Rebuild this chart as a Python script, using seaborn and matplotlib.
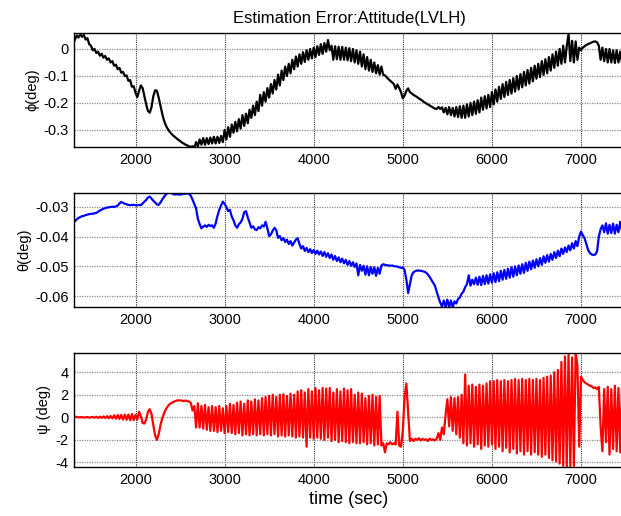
import numpy as np
import matplotlib
matplotlib.use('Agg')
import matplotlib.pyplot as plt
import seaborn as sns

# tempo: uma amostra a cada 20 s
time_sec = np.arange(1300, 7500, 20)

phi_deg = [
    0.02, 0.035, 0.05, 0.042, 0.055, 0.045, 0.052, 0.035, 0.04, 0.018,
    0.012, -0.005, 0.0, -0.015, -0.01, -0.025, -0.018, -0.032, -0.026, -0.04,
    -0.035, -0.05, -0.045, -0.062, -0.058, -0.075, -0.07, -0.088, -0.085, -0.10,
    -0.098, -0.118, -0.115, -0.14, -0.138, -0.162, -0.178, -0.155, -0.135, -0.145,
    -0.175, -0.205, -0.23, -0.236, -0.215, -0.175, -0.153, -0.155, -0.18, -0.21,
    -0.24, -0.265, -0.283, -0.295, -0.305, -0.313, -0.32, -0.325, -0.331, -0.336,
    -0.341, -0.346, -0.35, -0.354, -0.357, -0.36, -0.363, -0.36, -0.366, -0.345,
    -0.36, -0.335, -0.355, -0.33, -0.355, -0.33, -0.352, -0.328, -0.35, -0.325,
    -0.35, -0.325, -0.348, -0.322, -0.345, -0.30, -0.335, -0.29, -0.325, -0.28,
    -0.31, -0.27, -0.305, -0.26, -0.295, -0.245, -0.285, -0.24, -0.275, -0.225,
    -0.255, -0.21, -0.245, -0.195, -0.23, -0.17, -0.21, -0.16, -0.195, -0.145,
    -0.18, -0.13, -0.165, -0.115, -0.15, -0.095, -0.135, -0.08, -0.115, -0.065,
    -0.10, -0.055, -0.09, -0.04, -0.075, -0.028, -0.065, -0.02, -0.055, -0.012,
    -0.048, -0.005, -0.04, 0.0, -0.035, 0.005, -0.03, 0.01, -0.022, 0.018,
    -0.018, 0.022, -0.01, 0.033, -0.005, 0.012, -0.04, 0.01, -0.038, 0.008,
    -0.04, 0.008, -0.04, 0.005, -0.042, 0.003, -0.045, 0.0, -0.05, -0.005,
    -0.055, -0.01, -0.065, -0.02, -0.075, -0.03, -0.08, -0.04, -0.085, -0.05,
    -0.09, -0.06, -0.095, -0.065, -0.096, -0.098, -0.105, -0.112, -0.118, -0.124,
    -0.13, -0.148, -0.132, -0.145, -0.16, -0.183, -0.172, -0.155, -0.146, -0.16,
    -0.165, -0.17, -0.174, -0.178, -0.183, -0.187, -0.192, -0.197, -0.201, -0.205,
    -0.209, -0.213, -0.217, -0.221, -0.222, -0.215, -0.222, -0.216, -0.235, -0.218,
    -0.242, -0.215, -0.245, -0.218, -0.25, -0.215, -0.252, -0.212, -0.255, -0.21,
    -0.255, -0.205, -0.25, -0.20, -0.245, -0.195, -0.24, -0.19, -0.235, -0.18,
    -0.225, -0.175, -0.22, -0.17, -0.215, -0.16, -0.205, -0.15, -0.195, -0.14,
    -0.185, -0.13, -0.178, -0.122, -0.17, -0.115, -0.165, -0.108, -0.158, -0.10,
    -0.15, -0.093, -0.142, -0.085, -0.135, -0.078, -0.128, -0.07, -0.12, -0.062,
    -0.11, -0.055, -0.104, -0.045, -0.096, -0.038, -0.09, -0.03, -0.08, -0.02,
    -0.07, -0.01, -0.062, 0.0, -0.055, 0.012, -0.05, 0.01, 0.056, -0.045,
    0.03, -0.05, 0.028, -0.04, 0.005, -0.005, 0.005, 0.01, 0.015, 0.018,
    0.021, 0.024, 0.027, 0.028, 0.025, 0.012, -0.04, 0.005, -0.045, 0.0,
    -0.05, 0.0, -0.05, -0.005, -0.052, -0.005, -0.05, -0.01, -0.05, -0.01,
]

theta_deg = [
    -0.0352, -0.0348, -0.0342, -0.0337, -0.0334, -0.0331, -0.0330, -0.0327, -0.0326, -0.0324,
    -0.0323, -0.0323, -0.0321, -0.0320, -0.0316, -0.0312, -0.0309, -0.0306, -0.0304, -0.0302,
    -0.0301, -0.0300, -0.0299, -0.0300, -0.0298, -0.0295, -0.0288, -0.0283, -0.0286, -0.0289,
    -0.0291, -0.0293, -0.0294, -0.0293, -0.0293, -0.0294, -0.0294, -0.0293, -0.0294, -0.0288,
    -0.0282, -0.0276, -0.0268, -0.0265, -0.0272, -0.0279, -0.0285, -0.0291, -0.0293, -0.0285,
    -0.0275, -0.0266, -0.0258, -0.0253, -0.0252, -0.0253, -0.0256, -0.0258, -0.0257, -0.0258,
    -0.0258, -0.0257, -0.0256, -0.0255, -0.0254, -0.0256, -0.0262, -0.0275, -0.0290, -0.0305,
    -0.0340, -0.0358, -0.0372, -0.0366, -0.0362, -0.0367, -0.0360, -0.0364, -0.0362, -0.0370,
    -0.0355, -0.0330, -0.0310, -0.0295, -0.0282, -0.0290, -0.0300, -0.0314, -0.0310, -0.0332,
    -0.0345, -0.0362, -0.0370, -0.0358, -0.0352, -0.0340, -0.0318, -0.0314, -0.0335, -0.0352,
    -0.0370, -0.0365, -0.0375, -0.0378, -0.0368, -0.0372, -0.0362, -0.0366, -0.0350, -0.0372,
    -0.0398, -0.0392, -0.0380, -0.0370, -0.0378, -0.0404, -0.0398, -0.0412, -0.0405, -0.0418,
    -0.0410, -0.0425, -0.0415, -0.0430, -0.0420, -0.0410, -0.0405, -0.0425, -0.0440, -0.0432,
    -0.0448, -0.0438, -0.0452, -0.0442, -0.0455, -0.0445, -0.0458, -0.0447, -0.0460, -0.0450,
    -0.0465, -0.0452, -0.0468, -0.0456, -0.0472, -0.0460, -0.0478, -0.0465, -0.0482, -0.0470,
    -0.0486, -0.0474, -0.0490, -0.0478, -0.0495, -0.0482, -0.0498, -0.0486, -0.0502, -0.0490,
    -0.0530, -0.0495, -0.0515, -0.0498, -0.0528, -0.0500, -0.0530, -0.0502, -0.0525, -0.0503,
    -0.0532, -0.0505, -0.0525, -0.0497, -0.0493, -0.0495, -0.0496, -0.0497, -0.0498, -0.0497,
    -0.0499, -0.0500, -0.0501, -0.0503, -0.0505, -0.0504, -0.0512, -0.0545, -0.0590, -0.0560,
    -0.0530, -0.0520, -0.0516, -0.0514, -0.0514, -0.0515, -0.0516, -0.0518, -0.0521, -0.0527,
    -0.0535, -0.0545, -0.0555, -0.0565, -0.0585, -0.0605, -0.0622, -0.0635, -0.0615, -0.0637,
    -0.0612, -0.0637, -0.0615, -0.0637, -0.0618, -0.0625, -0.0610, -0.0605, -0.0592, -0.0585,
    -0.0570, -0.0560, -0.0530, -0.0565, -0.0545, -0.0560, -0.0538, -0.0562, -0.0535, -0.0563,
    -0.0532, -0.0560, -0.0530, -0.0558, -0.0527, -0.0555, -0.0523, -0.0553, -0.0520, -0.0550,
    -0.0515, -0.0545, -0.0512, -0.0542, -0.0508, -0.0538, -0.0503, -0.0535, -0.0500, -0.0530,
    -0.0497, -0.0525, -0.0493, -0.0522, -0.0488, -0.0515, -0.0484, -0.0510, -0.0480, -0.0505,
    -0.0476, -0.0500, -0.0472, -0.0495, -0.0466, -0.0488, -0.0462, -0.0484, -0.0458, -0.0478,
    -0.0452, -0.0472, -0.0447, -0.0466, -0.0440, -0.0458, -0.0436, -0.0452, -0.0430, -0.0446,
    -0.0422, -0.0440, -0.0415, -0.0432, -0.0400, -0.0383, -0.0395, -0.0405, -0.0425, -0.0445,
    -0.0455, -0.0460, -0.0462, -0.0460, -0.0450, -0.0400, -0.0375, -0.0362, -0.0385, -0.0355,
    -0.0390, -0.0360, -0.0388, -0.0356, -0.0390, -0.0360, -0.0385, -0.0350, -0.0380, -0.0355,
]

psi_deg = [
    0.05, 0.05, 0.02, 0.0, 0.0, 0.02, -0.02, 0.0, 0.03, -0.03,
    0.0, 0.04, -0.04, 0.05, -0.05, 0.06, -0.05, 0.08, -0.06, 0.1,
    -0.08, 0.12, -0.1, 0.18, -0.12, 0.2, -0.15, 0.22, -0.2, 0.25,
    -0.22, 0.25, -0.25, 0.3, -0.25, 0.2, -0.2, 0.5, 0.1, -0.5,
    -0.55, -0.2, 0.5, 0.72, 0.3, -0.7, -1.6, -2.0, -1.5, -0.7,
    -0.1, 0.35, 0.7, 0.95, 1.15, 1.25, 1.35, 1.42, 1.48, 1.5,
    1.5, 1.47, 1.45, 1.48, 1.45, 1.4, 1.3, 0.6, 1.0, -0.9,
    1.25, -0.9, 1.0, -1.0, 1.1, -1.1, 0.9, -1.2, 1.0, -1.2,
    0.9, -1.3, 1.0, -1.2, 0.8, -1.4, 1.0, -1.3, 1.2, -1.4,
    1.1, -1.5, 1.3, -1.4, 1.4, -1.6, 1.2, -1.5, 1.5, -1.6,
    1.4, -1.5, 1.6, -1.6, 1.5, -1.5, 1.7, -1.6, 1.8, -1.5,
    1.9, -1.6, 2.0, -1.5, 1.8, -1.7, 2.0, -1.6, 2.05, -1.7,
    1.9, -1.6, 2.1, -1.7, 2.0, -1.8, 2.3, -1.7, 2.4, -1.8,
    2.2, -2.6, 2.5, -1.8, 2.3, -1.9, 2.6, -1.8, 2.4, -1.9,
    2.6, -2.0, 2.55, -1.8, 2.6, -2.1, 2.2, -2.0, 2.5, -2.2,
    2.3, -2.1, 2.55, -2.2, 2.4, -2.3, 2.5, -2.2, 2.0, -2.3,
    2.2, -2.3, 2.1, -2.2, 1.7, -2.4, 1.9, -2.3, 2.0, -2.5,
    1.8, -2.4, 1.9, -2.5, -2.3, -3.1, -2.3, -2.4, -2.2, -2.4,
    -2.3, -2.4, 0.5, -2.5, -2.6, -1.2, 1.8, 3.0, 0.5, -2.1,
    -1.9, -2.1, -1.9, -2.0, -1.85, -2.05, -1.9, -2.0, -1.95, -2.1,
    -1.9, -2.0, -1.95, -2.05, -1.9, -1.4, -2.0, -0.9, -1.5, 0.2,
    1.6, -0.8, 1.8, -1.2, 1.7, -1.5, 1.8, -1.8, 2.0, -2.3,
    3.8, -2.5, 2.8, -2.3, 2.9, -2.6, 2.7, -2.4, 2.9, -2.8,
    2.8, -2.5, 3.0, -2.6, 3.2, -2.4, 3.2, -2.8, 3.3, -2.6,
    3.2, -3.0, 3.3, -2.7, 3.2, -3.1, 3.3, -2.8, 3.4, -3.2,
    3.3, -3.0, 3.4, -3.3, 3.3, -3.0, 3.4, -3.3, 3.3, -3.1,
    3.4, -3.3, 3.3, -3.5, 3.5, -3.3, 3.6, -3.6, 3.7, -3.8,
    4.0, -3.9, 4.2, -4.1, 4.9, -4.3, 5.4, -4.4, 5.6, -4.4,
    5.3, -4.3, 5.8, 4.5, -2.6, 3.6, 3.3, 3.1, 3.0, 2.9,
    2.8, 2.75, 2.6, 2.65, 2.5, 2.7, -0.8, -3.0, 2.5, -2.2,
    2.7, -3.3, 2.5, -2.8, 2.8, -3.0, 2.6, -3.1, 2.7, -2.5,
]

panels = [
    (phi_deg, 'black', 'ϕ(deg)', (-0.363, 0.059), [-0.3, -0.2, -0.1, 0], ['-0.3', '-0.2', '-0.1', '0']),
    (theta_deg, 'blue', 'θ(deg)', (-0.0637, -0.0253), [-0.06, -0.05, -0.04, -0.03], ['-0.06', '-0.05', '-0.04', '-0.03']),
    (psi_deg, 'red', 'ψ (deg)', (-4.4, 5.7), [-4, -2, 0, 2, 4], ['-4', '-2', '0', '2', '4']),
]
# posição dos eixos em fração da figura
rects = [
    [0.1192, 0.7151, 0.8857, 0.2209],
    [0.1192, 0.4050, 0.8857, 0.2209],
    [0.1192, 0.0950, 0.8857, 0.2209],
]

sns.set_theme(style='white')
plt.rcParams['font.family'] = ['Liberation Sans', 'DejaVu Sans']
plt.rcParams['axes.unicode_minus'] = False
plt.rcParams['text.color'] = 'black'
plt.rcParams['axes.labelcolor'] = 'black'

fig = plt.figure(figsize=(6.21, 5.16), dpi=100)
axes = []
for (vals, cor, rotulo, lim, yt, ytl), rect in zip(panels, rects):
    ax = fig.add_axes(rect)
    sns.lineplot(x=time_sec, y=vals, color=cor, linewidth=1.6, estimator=None, errorbar=None, ax=ax)
    ax.set_xlim(1310, 7483)
    ax.set_ylim(*lim)
    ax.set_xticks([2000, 3000, 4000, 5000, 6000, 7000])
    ax.set_xticklabels(['2000', '3000', '4000', '5000', '6000', '7000'])
    ax.set_yticks(yt)
    ax.set_yticklabels(ytl)
    ax.grid(axis='x', color='0.2', linewidth=0.8, linestyle=(0, (1, 1)))
    ax.grid(axis='y', color='0.55', linewidth=0.9, linestyle=(0, (1, 1)))
    ax.set_axisbelow(True)
    for s in ax.spines.values():
        s.set_color('black')
        s.set_linewidth(1.0)
    ax.tick_params(direction='in', length=3, labelsize=10.5, colors='black', pad=4)
    ax.set_ylabel(rotulo, fontsize=10.5, labelpad=3, color='black')
    ax.set_xlabel('')
    axes.append(ax)

axes[0].set_title('Estimation Error:Attitude(LVLH)', fontsize=12, pad=7, color='black')
axes[2].set_xlabel('time (sec)', fontsize=13, labelpad=3, color='black')

fig.savefig('out.png', dpi=100)
